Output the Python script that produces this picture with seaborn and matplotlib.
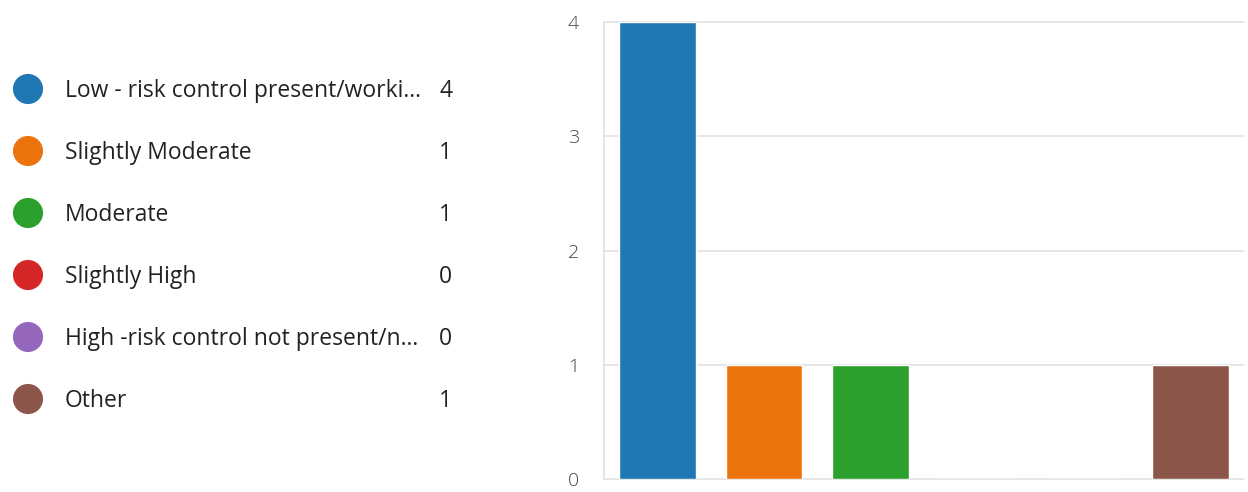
import matplotlib
matplotlib.use("Agg")
import matplotlib.pyplot as plt
import seaborn as sns
import pandas as pd

categories = [
	"Low - risk control present/worki...",
	"Slightly Moderate",
	"Moderate",
	"Slightly High",
	"High -risk control not present/n...",
	"Other",
]
counts = [4, 1, 1, 0, 0, 1]
colors = ["#1f77b4", "#ed730c", "#2ca02c", "#d62728", "#9467bd", "#8c564b"]
y_ticks = [0, 1, 2, 3, 4]

GRID = "#e2e2e2"
TEXT = "#222222"
FONT = "Open Sans"


def legend_panel(fig) -> None:
	ax = fig.add_axes([0, 0, 500 / 1248, 1])
	ax.set_xlim(0, 500)
	# row index 0 sits at pixel 89, rows 62 px apart
	ax.set_ylim((492 - 89) / 62, -89 / 62)
	ax.axis("off")
	rows = list(range(len(categories)))
	ax.scatter([28] * len(rows), rows, s=470, c=colors, linewidths=0)
	for i, (label, n) in enumerate(zip(categories, counts)):
		ax.text(65, i + 0.03, label, va="center", ha="left", fontsize=16.5,
			color=TEXT, family=FONT)
		ax.text(452, i + 0.03, str(n), va="center", ha="right", fontsize=16.5,
			color=TEXT, family=FONT)


def bar_panel(fig) -> None:
	ax = fig.add_axes([604 / 1248, 13 / 492, 640 / 1248, 457 / 492])
	df = pd.DataFrame({"category": categories, "count": counts})
	sns.barplot(
		data=df,
		x="category",
		y="count",
		hue="category",
		palette=colors,
		legend=False,
		width=0.72,
		saturation=1,
		ax=ax,
	)
	ax.set_xlim(-0.5, len(categories) - 0.5)
	ax.set_ylim(0, 4)
	ax.set_yticks(y_ticks)
	ax.set_xticks([])
	ax.set_xlabel("")
	ax.set_ylabel("")
	ax.grid(axis="y", color=GRID, linewidth=1.2, clip_on=False)
	ax.set_axisbelow(True)
	for side in ["top", "right", "bottom"]:
		ax.spines[side].set_visible(False)
	ax.spines["left"].set_color(GRID)
	ax.spines["left"].set_linewidth(1.2)
	ax.tick_params(axis="y", length=12, width=1.2, color=GRID, pad=6,
		labelsize=14, labelcolor="#444444")
	for lbl in ax.get_yticklabels():
		lbl.set_family(FONT)
		lbl.set_fontweight("light")


def main():
	sns.set_theme(style="white")
	fig = plt.figure(figsize=(12.48, 4.92), dpi=100)
	legend_panel(fig)
	bar_panel(fig)
	fig.savefig("out.png", dpi=100)
	plt.close(fig)


if __name__ == "__main__":
	main()
